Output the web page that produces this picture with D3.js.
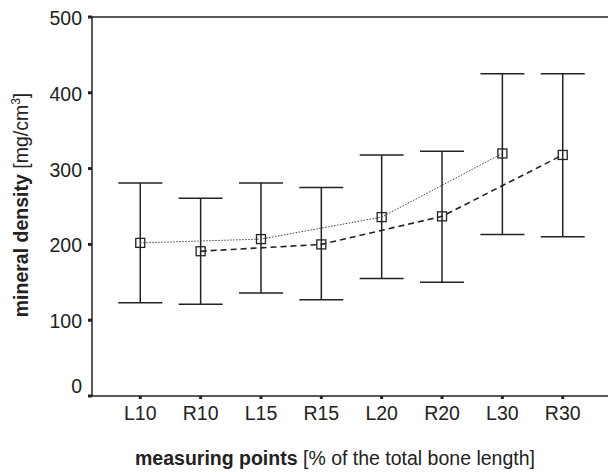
<!DOCTYPE html>
<html>
<head>
<meta charset="utf-8">
<script src="https://cdn.jsdelivr.net/npm/d3@7/dist/d3.min.js"></script>
<style>
body { margin: 0; background: #fff; }
svg text { font-family: "Liberation Sans", Arial, sans-serif; fill: #222; }
</style>
</head>
<body>
<script>
var categories = ['L10', 'R10', 'L15', 'R15', 'L20', 'R20', 'L30', 'R30'];
var means = [202, 191, 207, 200, 236, 237, 320, 318];
var upper = [281, 261, 281, 275, 318, 323, 425, 425];
var lower = [123, 121, 136, 127, 155, 150, 213, 210];
var yTicks = [0, 100, 200, 300, 400, 500];
var leftSeries = ['L10', 'L15', 'L20', 'L30'];
var rightSeries = ['R10', 'R15', 'R20', 'R30'];

var _width = 608,
    _height = 472,
    _left = 92,
    _top = 17,
    _bottom = 396,
    _fs = 19.5,
    _ink = '#222';

var svg = d3.select('body').append('svg')
    .attr('width', _width).attr('height', _height);

var x = d3.scalePoint().domain(categories).range([_left, 611]).padding(0.8);
var y = d3.scaleLinear().domain([0, 500]).range([_bottom, _top]);

var rows = categories.map(function(c, i){
    return {cat: c, mean: means[i], hi: upper[i], lo: lower[i]};
});
var byCat = {};
rows.forEach(function(r){ byCat[r.cat] = r; });

// frame lines: top and bottom run to the edge, no right border
svg.append('line').attr('x1', _left).attr('x2', _width).attr('y1', _top).attr('y2', _top)
    .attr('stroke', _ink).attr('stroke-width', 1.5);
svg.append('line').attr('x1', _left).attr('x2', _width).attr('y1', _bottom).attr('y2', _bottom)
    .attr('stroke', _ink).attr('stroke-width', 1.5);
svg.append('line').attr('x1', _left).attr('x2', _left).attr('y1', _top).attr('y2', _bottom)
    .attr('stroke', _ink).attr('stroke-width', 1.5);

// y ticks
var yg = svg.append('g');
yg.selectAll('rect').data(yTicks).enter().append('rect')
    .attr('x', _left - 4).attr('y', function(d){ return y(d) - 1.5; })
    .attr('width', 4).attr('height', 3).attr('fill', _ink);
yg.selectAll('text').data(yTicks).enter().append('text')
    .attr('x', _left - 10).attr('y', function(d){ return y(d) + (d === 0 ? -3 : 8); })
    .attr('text-anchor', 'end').attr('font-size', _fs)
    .text(function(d){ return d; });

// x ticks
var xg = svg.append('g');
xg.selectAll('rect').data(categories).enter().append('rect')
    .attr('x', function(d){ return x(d) - 1.5; }).attr('y', _bottom)
    .attr('width', 3).attr('height', 3).attr('fill', _ink);
xg.selectAll('text').data(categories).enter().append('text')
    .attr('x', function(d){ return x(d); }).attr('y', 420)
    .attr('text-anchor', 'middle').attr('font-size', _fs)
    .text(function(d){ return d; });

// error bars
var eb = svg.append('g').attr('stroke', _ink).attr('stroke-width', 1.5);
eb.selectAll('.stem').data(rows).enter().append('line')
    .attr('x1', function(d){ return x(d.cat); }).attr('x2', function(d){ return x(d.cat); })
    .attr('y1', function(d){ return y(d.hi); }).attr('y2', function(d){ return y(d.lo); });
eb.selectAll('.capHi').data(rows).enter().append('line')
    .attr('x1', function(d){ return x(d.cat) - 22; }).attr('x2', function(d){ return x(d.cat) + 22; })
    .attr('y1', function(d){ return y(d.hi); }).attr('y2', function(d){ return y(d.hi); });
eb.selectAll('.capLo').data(rows).enter().append('line')
    .attr('x1', function(d){ return x(d.cat) - 22; }).attr('x2', function(d){ return x(d.cat) + 22; })
    .attr('y1', function(d){ return y(d.lo); }).attr('y2', function(d){ return y(d.lo); });

// connecting lines
var line = d3.line()
    .x(function(c){ return x(c); })
    .y(function(c){ return y(byCat[c].mean); });
svg.append('path').datum(leftSeries).attr('d', line)
    .attr('fill', 'none').attr('stroke', '#444').attr('stroke-width', 1)
    .attr('stroke-dasharray', '1.5,1.5');
svg.append('path').datum(rightSeries).attr('d', line)
    .attr('fill', 'none').attr('stroke', _ink).attr('stroke-width', 1.6)
    .attr('stroke-dasharray', '6,4');

// markers
svg.append('g').selectAll('rect').data(rows).enter().append('rect')
    .attr('x', function(d){ return x(d.cat) - 4.5; })
    .attr('y', function(d){ return y(d.mean) - 4.5; })
    .attr('width', 9).attr('height', 9)
    .attr('fill', 'none').attr('stroke', _ink).attr('stroke-width', 1.3);

// axis titles
var xt = svg.append('text').attr('x', 335).attr('y', 465)
    .attr('text-anchor', 'middle').attr('font-size', _fs);
xt.append('tspan').attr('font-weight', 'bold').text('measuring points');
xt.append('tspan').text(' [% of the total bone length]');

var yt = svg.append('text')
    .attr('transform', 'translate(28,205) rotate(-90)')
    .attr('text-anchor', 'middle').attr('font-size', _fs);
yt.append('tspan').attr('font-weight', 'bold').text('mineral density');
yt.append('tspan').text(' [mg/cm');
yt.append('tspan').attr('font-size', 12).attr('dy', -8).text('3');
yt.append('tspan').attr('dy', 8).text(']');
</script>
</body>
</html>
